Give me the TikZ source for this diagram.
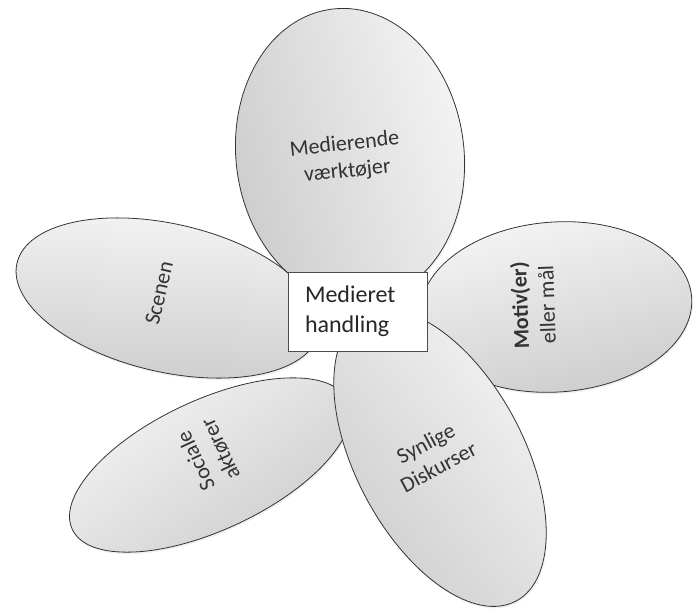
\documentclass[tikz,border=0pt]{standalone}
\usepackage{fontspec}
\setmainfont{Carlito}
\usetikzlibrary{shapes.geometric,shadows}

\begin{document}
\begin{tikzpicture}[x=1pt, y=1pt,
    petal/.style={ellipse, draw=black!80, line width=0.8pt, inner sep=0pt,
        top color=gray!8, bottom color=gray!40,
        drop shadow={opacity=0.12, shadow xshift=1pt, shadow yshift=-2pt}},
    petal text/.style={text=black!80, align=center, font=\fontsize{22}{27}\selectfont},
    hub/.style={rectangle, draw=black!70, fill=white, line width=0.8pt,
        minimum width=139pt, minimum height=79pt, inner xsep=17pt,
        text width=105pt, align=left, text=black!85, font=\fontsize{24}{30}\selectfont}]

\useasboundingbox (0,0) rectangle (693,-608);

% petals, lowest first (shading angle = rotate - 80, light side to the left)
\node[petal, rotate=115, shading angle=35, minimum width=130pt, minimum height=304pt] (actors) at (210,-465) {};
\node[petal text, rotate=115] (actors-text) at (208,-455) {Sociale\\aktører};

\node[petal, rotate=94, shading angle=14, minimum width=170pt, minimum height=272pt] (motive) at (556,-307) {};
\node[petal text, rotate=92] (motive-text) at (533,-305) {\textbf{Motiv(er)}\\eller mål};

\node[petal, rotate=77, shading angle=-3, minimum width=148pt, minimum height=310pt] (scene) at (168,-298) {};
\node[petal text, rotate=77] (scene-text) at (159,-293) {Scenen};

\node[petal, rotate=28, shading angle=-52, minimum width=168pt, minimum height=324pt] (discourse) at (440,-458) {};
\node[petal text, rotate=28] (discourse-text) at (432,-455) {Synlige\\Diskurser};

\node[petal, rotate=7, shading angle=-73, minimum width=228pt, minimum height=294pt] (tool) at (350,-155) {};
\node[petal text, rotate=6] (tool-text) at (346,-158) {Medierende\\værktøjer};

% centre
\node[hub] (action) at (357.5,-311.5) {Medieret\\handling};
\end{tikzpicture}
\end{document}
